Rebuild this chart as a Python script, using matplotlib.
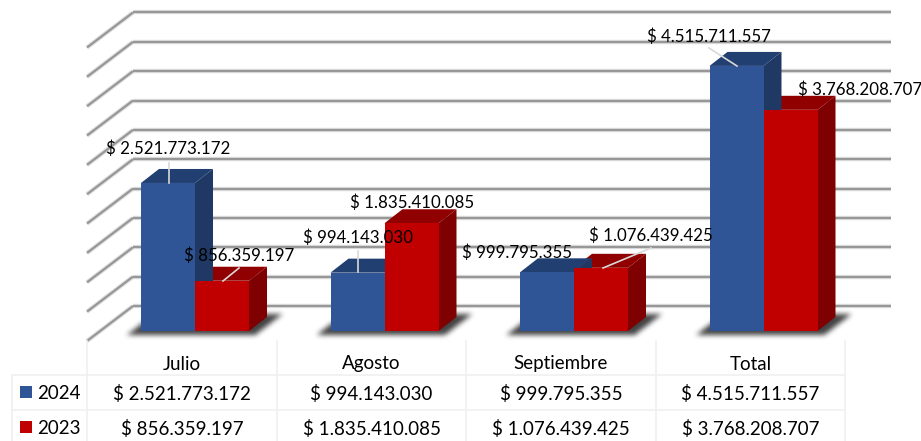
import matplotlib
matplotlib.use("Agg")
import matplotlib.pyplot as plt
from matplotlib.patches import Polygon
import numpy as np

categories = ["Julio", "Agosto", "Septiembre", "Total"]
series_names = ["2024", "2023"]
values_2024 = [2521773172, 994143030, 999795355, 4515711557]
values_2023 = [856359197, 1835410085, 1076439425, 3768208707]
grid_values = [i * 500000000 for i in range(11)]

# pixel positions of the label centres and their leader lines
label_2024 = [(168, 148.5), (358, 237.5), (517, 252.5), (709, 36.5)]
label_2023 = [(239, 255.5), (412, 202.5), (651, 235.5), (860, 89.5)]
leader_2024 = [((169, 163), (169, 183)), ((358, 251), (358, 272)), None, ((709, 48), (737, 66))]
leader_2023 = [((223, 281), (239, 268)), None, ((603, 268), (651, 248)), None]

COL_24, COL_23 = "#2F5597", "#C00000"
SIDE_24, TOP_24 = "#203864", "#223F72"
SIDE_23, TOP_23 = "#7F0000", "#900000"
FONT = "Lato"
FS = 13.5
FS_LABEL = 12.15

W, H = 921, 441
fig = plt.figure(figsize=(W / 100, H / 100), dpi=100)

# data axes: x = category index, y = money. 189.5 px per category, 58.7 px per 1e9
PXX, PXY = 189.5, 58.7e-9
x_of = lambda p: (p - 195) / PXX
y_of = lambda p: (331 - p) / PXY
ax = fig.add_axes([0, 0, 1, 1])
ax.axis("off")

# overlay in pixels for the table and text placement
tb = fig.add_axes([0, 0, 1, 1], facecolor="none")
tb.set_xlim(0, W)
tb.set_ylim(H, 0)
tb.axis("off")

# walls: gridlines with a soft halo
back_dy = (331 - 306) / PXY
front_dy = (331 - 341) / PXY
x_back0, x_back1 = x_of(133), x_of(891)
x_front = x_of(87)
for g in grid_values:
    yb = g + back_dy
    yf = g + front_dy
    for lw, col, z in [(3.2, "#e0e0e0", 1), (1.6, "#979797", 2)]:
        ax.plot([x_back0, x_back1], [yb, yb], color=col, lw=lw, zorder=z, solid_capstyle="butt")
        ax.plot([x_front, x_back0], [yf, yb], color=col, lw=lw, zorder=z, solid_capstyle="butt")

# bars
bw = 54 / PXX
dx, dy = 18 / PXX, 14 / PXY
positions = range(len(categories))


def blur(a, r):
    k = np.ones(2 * r + 1) / (2 * r + 1)
    for _ in range(3):
        a = np.apply_along_axis(lambda m: np.convolve(m, k, mode="same"), 0, a)
        a = np.apply_along_axis(lambda m: np.convolve(m, k, mode="same"), 1, a)
    return a


# soft floor shadow layer, one full-figure image
yy, xx = np.mgrid[0:H, 0:W]
mask = np.zeros((H, W))
for i in positions:
    left = 195 + (i - bw) * PXX
    right = left + 2 * bw * PXX
    t = np.clip((334 - yy) / 20.0, 0, 1)
    inside = (yy >= 314) & (yy <= 334) & (xx >= left - 14 + 26 * t) & (xx <= right + 6 + 26 * t)
    mask[inside] = 1
shadow = blur(mask, 2)
rgba = np.zeros((H, W, 4))
rgba[..., :3] = 0.13
rgba[..., 3] = shadow * 0.85
ax.imshow(rgba, extent=(x_of(0), x_of(W), y_of(H), y_of(0)), origin="upper",
          aspect="auto", zorder=4, interpolation="bilinear")
ax.set_xlim(x_of(0), x_of(W))
ax.set_ylim(y_of(H), y_of(0))


def draw_box(x0, v, front, side, top):
    ax.bar(x0, v, width=bw, align="edge", color=front, zorder=6, linewidth=0)
    ax.add_patch(Polygon([(x0 + bw, 0), (x0 + bw + dx, dy), (x0 + bw + dx, v + dy), (x0 + bw, v)],
                         facecolor=side, edgecolor="none", zorder=5))
    ax.add_patch(Polygon([(x0, v), (x0 + dx, v + dy), (x0 + bw + dx, v + dy), (x0 + bw, v)],
                         facecolor=top, edgecolor="none", zorder=5))


for i in positions:
    x_left = i - bw
    draw_box(x_left + bw, values_2023[i], COL_23, SIDE_23, TOP_23)
    draw_box(x_left, values_2024[i], COL_24, SIDE_24, TOP_24)


def money(v):
    return "$ " + f"{v:,}".replace(",", ".")


# leader lines and value labels
for leaders in (leader_2024, leader_2023):
    for seg in leaders:
        if seg:
            tb.plot([seg[0][0], seg[1][0]], [seg[0][1], seg[1][1]], color="#d9d9d9", lw=1.2, zorder=8)
for vals, labs in ((values_2024, label_2024), (values_2023, label_2023)):
    for v, (px, py) in zip(vals, labs):
        tb.text(px, py, money(v), ha="center", va="center", fontsize=FS_LABEL, family=FONT, color="black", zorder=9)

# data table
col_edges = [87, 277, 466, 656, 845]
row_lines = [375, 410]
LINE = "#f0f0f0"
for x in col_edges:
    tb.plot([x, x], [341, H], color=LINE, lw=1.2, zorder=1)
tb.plot([12, 12], [375, H], color=LINE, lw=1.2, zorder=1)
for y in row_lines:
    tb.plot([12, 845], [y, y], color=LINE, lw=1.2, zorder=1)
for i, name in enumerate(categories):
    cx = (col_edges[i] + col_edges[i + 1]) / 2
    tb.text(cx, 364, name, ha="center", va="center", fontsize=FS, family=FONT)
    tb.text(cx, 394, money(values_2024[i]), ha="center", va="center", fontsize=FS, family=FONT)
    tb.text(cx, 429, money(values_2023[i]), ha="center", va="center", fontsize=FS, family=FONT)
for name, y, col in ((series_names[0], 392, COL_24), (series_names[1], 427, COL_23)):
    tb.add_patch(Polygon([(20, y - 6), (32, y - 6), (32, y + 6), (20, y + 6)], facecolor=col, edgecolor="none"))
    tb.text(37, y + 1.5, name, ha="left", va="center", fontsize=FS, family=FONT)

fig.savefig("out.png", dpi=100, facecolor="white")
